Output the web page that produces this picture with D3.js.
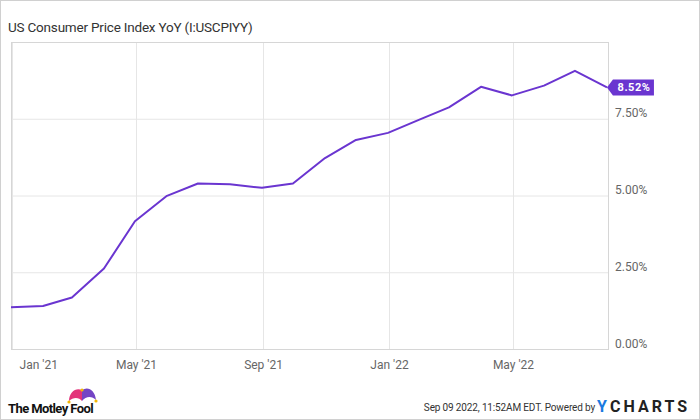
<!DOCTYPE html>
<html>
<head>
<meta charset="utf-8">
<script src="https://cdn.jsdelivr.net/npm/d3@7"></script>
<style>
	html, body { margin: 0; padding: 0; background: #fff; }
	text { font-family: Roboto, "Open Sans", sans-serif; }
	.axis text { fill: #666; font-size: 12px; }
	.axis path { display: none; }
</style>
</head>
<body>
<script>
;((window, document, d3) => {
	'use strict';

	// CPI YoY, month-end readings, Dec 2020 .. Jul 2022
	var months = ["2020-12-31", "2021-01-31", "2021-02-28", "2021-03-31", "2021-04-30", "2021-05-31",
		"2021-06-30", "2021-07-31", "2021-08-31", "2021-09-30", "2021-10-31", "2021-11-30",
		"2021-12-31", "2022-01-31", "2022-02-28", "2022-03-31", "2022-04-30", "2022-05-31",
		"2022-06-30", "2022-07-31"];
	var cpiValues = [1.36, 1.40, 1.68, 2.62, 4.16, 4.99, 5.39, 5.37, 5.25, 5.39, 6.22, 6.81,
		7.04, 7.48, 7.87, 8.54, 8.26, 8.58, 9.06, 8.52];
	var yTicks = [0, 2.5, 5, 7.5];
	var xTicks = ["2021-01-01", "2021-05-01", "2021-09-01", "2022-01-01", "2022-05-01"];
	var title = "US Consumer Price Index YoY (I:USCPIYY)";
	var lastLabel = "8.52%";
	var stamp = "Sep 09 2022, 11:52AM EDT.  Powered by";

	var parse = d3.timeParse("%Y-%m-%d");
	var data = months.map((m, i) => ({ date: parse(m), value: cpiValues[i] }));

	var width = 700, height = 420;
	var plot = { left: 11, right: 608, top: 42, bottom: 349 };
	var lineColor = "#6a35d0";

	var svg = d3.select("body").append("svg")
		.attr("width", width)
		.attr("height", height);

	// outer frame
	svg.append("rect")
		.attr("x", 0.5).attr("y", 0.5)
		.attr("width", width - 1).attr("height", height - 1)
		.attr("fill", "#fff")
		.attr("stroke", "#d0d0d0");

	// title
	svg.append("text")
		.attr("x", 8).attr("y", 32)
		.attr("fill", "#333")
		.style("font-size", "13.5px")
		.style("letter-spacing", "-0.2px")
		.text(title);

	// scales
	var x = d3.scaleTime()
		.domain([parse("2020-12-31"), parse("2022-08-01")])
		.range([plot.left, plot.right]);

	var y = d3.scaleLinear()
		.domain([0, 10])
		.range([plot.bottom, plot.top]);

	// horizontal grid
	svg.append("g")
		.selectAll("line")
		.data(yTicks)
		.enter().append("line")
		.attr("x1", plot.left).attr("x2", plot.right)
		.attr("y1", d => y(d) + 0.5).attr("y2", d => y(d) + 0.5)
		.attr("stroke", "#e6e6e6");

	// vertical grid
	svg.append("g")
		.selectAll("line")
		.data(xTicks.map(parse))
		.enter().append("line")
		.attr("x1", d => Math.round(x(d)) + 0.5).attr("x2", d => Math.round(x(d)) + 0.5)
		.attr("y1", plot.top).attr("y2", plot.bottom)
		.attr("stroke", "#e6e6e6");

	// plot frame
	svg.append("rect")
		.attr("x", plot.left + 0.5).attr("y", plot.top + 0.5)
		.attr("width", plot.right - plot.left).attr("height", plot.bottom - plot.top)
		.attr("fill", "none")
		.attr("stroke", "#d6d6d6");

	// x axis labels
	var xAxis = d3.axisBottom(x)
		.tickValues(xTicks.map(parse))
		.tickFormat(d3.timeFormat("%b '%y"))
		.tickSize(0);

	var xAxisG = svg.append("g")
		.attr("class", "axis")
		.attr("transform", "translate(0," + plot.bottom + ")")
		.call(xAxis);
	xAxisG.selectAll("text").attr("y", 11).attr("dy", "0.71em");
	// first label is pushed inside the plot edge
	xAxisG.selectAll("text").filter((d, i) => i === 0)
		.attr("text-anchor", "start")
		.attr("x", 7);

	// y axis labels
	var yAxis = d3.axisRight(y)
		.tickValues(yTicks)
		.tickFormat(d => d3.format(".2f")(d) + "%")
		.tickSize(0);

	svg.append("g")
		.attr("class", "axis")
		.attr("transform", "translate(" + plot.right + ",0)")
		.call(yAxis)
		.selectAll("text")
		.attr("x", 7)
		.attr("dy", "-0.15em");

	// series line
	var line = d3.line()
		.x(d => x(d.date))
		.y(d => y(d.value));

	svg.append("path")
		.datum(data)
		.attr("fill", "none")
		.attr("stroke", lineColor)
		.attr("stroke-width", 2)
		.attr("stroke-linejoin", "round")
		.attr("d", line);

	// last value flag
	var last = data[data.length - 1];
	var fx = x(last.date), fy = y(last.value);
	var flag = svg.append("g").attr("transform", "translate(" + fx + "," + fy + ")");
	flag.append("path")
		.attr("d", "M0,0 L6,-8 L47,-8 L47,8 L6,8 Z")
		.attr("fill", lineColor);
	flag.append("text")
		.attr("x", 27).attr("y", 4)
		.attr("text-anchor", "middle")
		.attr("fill", "#fff")
		.style("font-size", "11px")
		.style("font-weight", "bold")
		.style("letter-spacing", "0.5px")
		.text(lastLabel);

	// Motley Fool mark
	var fool = svg.append("g");
	fool.append("text")
		.attr("x", 8).attr("y", 413)
		.attr("fill", "#111")
		.style("font-size", "13px")
		.style("font-weight", "bold")
		.style("letter-spacing", "-0.6px")
		.text("The Motley Fool");
	fool.append("path")
		.attr("d", "M69,401 C69,392 76,387 82,390 L82,401 C79,397 73,397 69,401 Z")
		.attr("fill", "#e3337a");
	fool.append("path")
		.attr("d", "M82,390 C88,386 95,390 96,400 C92,396 86,396 82,401 Z")
		.attr("fill", "#7444c4");
	[[69, 402], [82, 390], [96, 401]].forEach(p => {
		fool.append("circle").attr("cx", p[0]).attr("cy", p[1]).attr("r", 1.6).attr("fill", "#f2b705");
	});

	// footer stamp and YCharts mark
	svg.append("text")
		.attr("x", 595).attr("y", 411)
		.attr("text-anchor", "end")
		.attr("fill", "#333")
		.style("font-size", "10px")
		.style("letter-spacing", "-0.15px")
		.text(stamp);
	svg.append("text")
		.attr("x", 597).attr("y", 412)
		.attr("fill", "#1a7ae0")
		.style("font-size", "16px")
		.style("font-weight", "bold")
		.text("Y");
	svg.append("text")
		.attr("x", 610).attr("y", 412)
		.attr("fill", "#222")
		.style("font-size", "16px")
		.style("font-weight", "bold")
		.style("letter-spacing", "3px")
		.text("CHARTS");

})(window, document, window.d3);
</script>
</body>
</html>
